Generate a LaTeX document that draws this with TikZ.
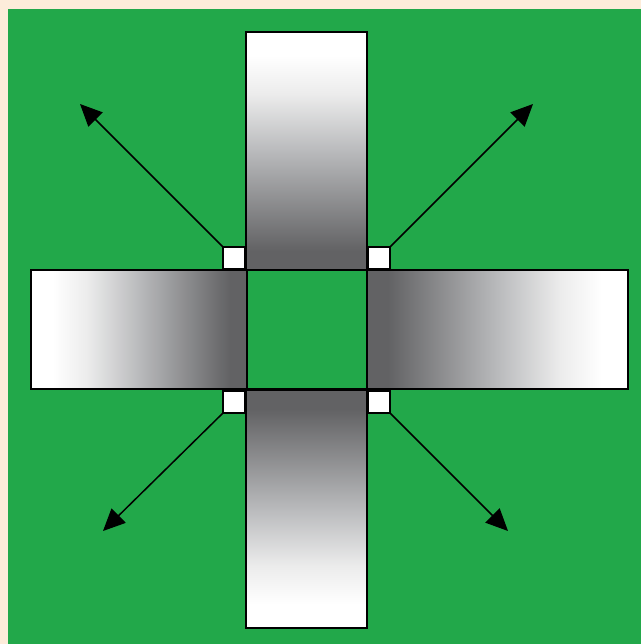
\documentclass[tikz,border=0pt]{standalone}
\usetikzlibrary{arrows.meta}
\definecolor{bgbeige}{RGB}{253,236,218}
\definecolor{bggreen}{RGB}{34,168,74}
\definecolor{bardark}{RGB}{98,98,100}
\definecolor{barmid}{RGB}{185,186,188}
\definecolor{barlight}{RGB}{236,236,236}
\pgfdeclareverticalshading{barV}{100bp}{color(0bp)=(bardark); color(29bp)=(bardark); color(50bp)=(barmid); color(62bp)=(barlight); color(70bp)=(white); color(100bp)=(white)}
\pgfdeclarehorizontalshading{barH}{100bp}{color(0bp)=(white); color(30bp)=(white); color(38bp)=(barlight); color(50bp)=(barmid); color(71bp)=(bardark); color(100bp)=(bardark)}
\begin{document}
\begin{tikzpicture}[x=1pt,y=-1pt,
  bar/.style={draw=black, line width=1.8pt, inner sep=0pt, outer sep=0pt, rectangle},
  vbar/.style={bar, minimum width=121pt, minimum height=238pt},
  hbar/.style={bar, minimum height=119pt},
  centre/.style={draw=black, line width=1.8pt, fill=bggreen, inner sep=0pt, outer sep=0pt, minimum width=120pt, minimum height=119pt},
  tiny/.style={draw=black, line width=1.5pt, fill=white, inner sep=0pt, outer sep=0pt, minimum size=22pt},
  arr/.style={line width=1.5pt, -{Triangle[length=22pt,width=20pt]}}]
\fill[bgbeige] (0,0) rectangle (641,644);
\fill[bggreen] (8,9) rectangle (641,644);
\useasboundingbox (0,0) rectangle (641,644);
% bars
\node[vbar, shading=barV] (top) at (306.5,151) {};
\node[vbar, shading=barV, shading angle=180] (bottom) at (306.5,509) {};
\node[hbar, minimum width=216pt, shading=barH] (left) at (139,329.5) {};
\node[hbar, minimum width=261pt, shading=barH, shading angle=180] (right) at (497.5,329.5) {};
\node[centre] (mid) at (307,329.5) {};
% small squares
\node[tiny] (tl) at (234,258) {};
\node[tiny] (tr) at (379,258) {};
\node[tiny] (bl) at (234,402) {};
\node[tiny] (br) at (379,402) {};
% arrow ends
\coordinate (etl) at (80,104);
\coordinate (etr) at (533,104);
\coordinate (ebl) at (103,531);
\coordinate (ebr) at (508,531);
\draw[arr] (tl.north west) -- (etl);
\draw[arr] (tr.north east) -- (etr);
\draw[arr] (bl.south west) -- (ebl);
\draw[arr] (br.south east) -- (ebr);
\end{tikzpicture}
\end{document}
